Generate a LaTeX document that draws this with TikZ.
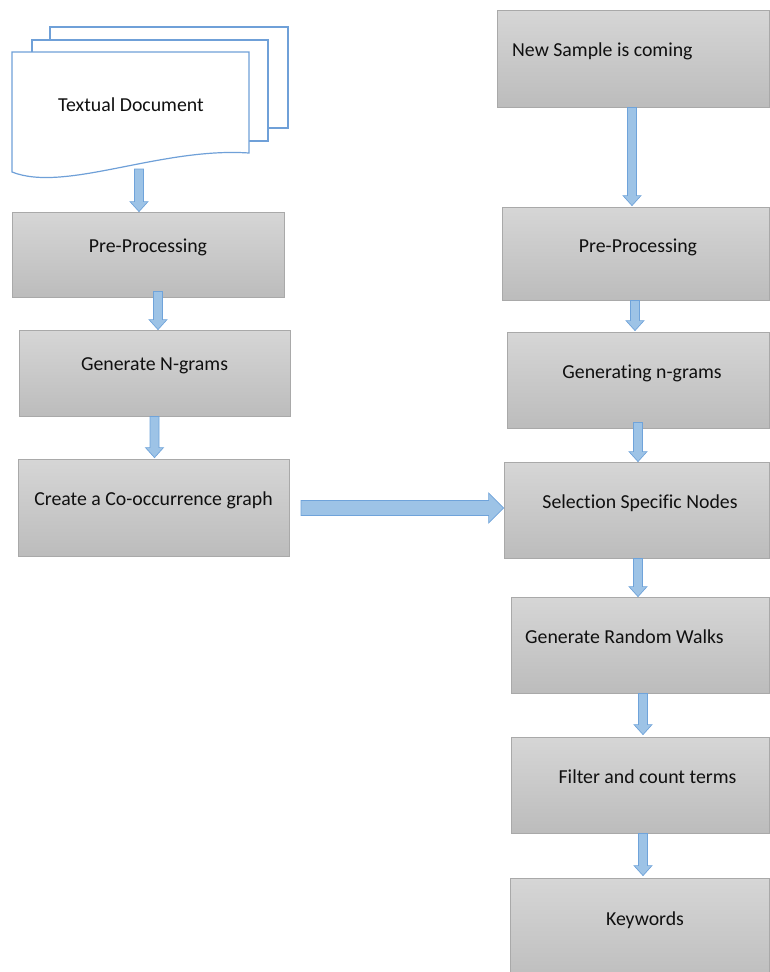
\documentclass[tikz,border=0pt]{standalone}
\usepackage{fontspec}
\setmainfont{Carlito}[Ligatures=NoCommon]
\usetikzlibrary{calc}
\definecolor{boxtop}{HTML}{D6D6D6}
\definecolor{boxbot}{HTML}{BCBCBC}
\definecolor{boxedge}{HTML}{A9A9A9}
\definecolor{arrfill}{HTML}{9DC3E6}
\definecolor{arredge}{HTML}{6FA3DA}
\definecolor{docblue}{HTML}{6FA0D8}
\definecolor{txtcol}{HTML}{101010}
\newcommand\varr[2]{\draw[blockarrow] let \p1=(#1), \p2=(#2) in
  (\x1-4.5pt,\y1) -- (\x1+4.5pt,\y1) -- (\x1+4.5pt,\y2+10pt) -- (\x1+9pt,\y2+10pt)
  -- (\x1,\y2) -- (\x1-9pt,\y2+10pt) -- (\x1-4.5pt,\y2+10pt) -- cycle;}
\newcommand\harr[2]{\draw[blockarrow] let \p1=(#1), \p2=(#2) in
  (\x1,\y1+7.5pt) -- (\x2-15pt,\y1+7.5pt) -- (\x2-15pt,\y1+15pt) -- (\x2,\y1)
  -- (\x2-15pt,\y1-15pt) -- (\x2-15pt,\y1-7.5pt) -- (\x1,\y1-7.5pt) -- cycle;}
\tikzset{
  box/.style={draw=boxedge, line width=0.8pt, top color=boxtop, bottom color=boxbot,
    inner sep=0pt, rectangle},
  lbl/.style={text=txtcol, font=\fontsize{19.8}{24}\selectfont, inner sep=0pt, anchor=center},
  lbll/.style={lbl, anchor=west},
  blockarrow/.style={fill=arrfill, draw=arredge, line width=0.7pt, line join=miter},
  page/.style={draw=docblue, fill=white, line width=1.2pt}
}
\begin{document}
\begin{tikzpicture}[x=1pt,y=-1pt]
\useasboundingbox (0,0) rectangle (770,972);
\clip (0,0) rectangle (770,972);
% document stack
\draw[page] (50,27) rectangle (288,128);
\draw[page] (32,40) rectangle (268,141);
\draw[page] (12,52) -- (249,52) -- (249,153) .. controls (160,147) and (65,193) .. (12,172) -- cycle;
\node[lbl] (doc) at (131,105) {Textual Document};
\coordinate (docb) at (139,169);
% left boxes
\node[box, minimum width=272pt, minimum height=85pt] (pp1) at (148,254.5) {};
\node[lbl] (pp1t) at (148,247) {Pre-Processing};
\node[box, minimum width=271pt, minimum height=86pt] (gn) at (154.5,373) {};
\node[lbl] (gnt) at (154.5,366) {Generate N-grams};
\node[box, minimum width=271pt, minimum height=97pt] (co) at (153.5,507.5) {};
\node[lbl] (cot) at (153.5,500) {Create a Co-occurrence graph};
% right boxes
\node[box, minimum width=272.5pt, minimum height=97pt] (ns) at (633.25,58.5) {};
\node[lbll] (nst) at (512,51) {New Sample is coming};
\node[box, minimum width=267.5pt, minimum height=93pt] (pp2) at (635.75,253.5) {};
\node[lbl] (pp2t) at (638,247) {Pre-Processing};
\node[box, minimum width=262.5pt, minimum height=96pt] (gg) at (638.25,380) {};
\node[lbl] (ggt) at (642,373) {Generating n-grams};
\node[box, minimum width=265.5pt, minimum height=96pt] (ss) at (636.75,510) {};
\node[lbl] (sst) at (640,503) {Selection Specific Nodes};
\node[box, minimum width=258.5pt, minimum height=96pt] (rw) at (640.25,645) {};
\node[lbll] (rwt) at (525,637) {Generate Random Walks};
\node[box, minimum width=258.5pt, minimum height=96pt] (ft) at (640.25,785) {};
\node[lbl] (ftt) at (647.5,777) {Filter and count terms};
\node[box, minimum width=259.5pt, minimum height=110pt] (kw) at (639.75,933) {};
\node[lbl] (kwt) at (645,920) {Keywords};
% arrow x positions
\coordinate (c0) at (139,0);
\coordinate (c1) at (158,0);
\coordinate (c2) at (154.5,0);
\coordinate (c4) at (632,0);
\coordinate (c5) at (635,0);
\coordinate (c6) at (638,0);
\coordinate (c8) at (643,0);
\coordinate (hs) at (301,508);
% arrows
\varr{docb}{pp1.north -| c0}
\varr{$(pp1.south -| c1)+(0,-6)$}{gn.north -| c1}
\varr{gn.south -| c2}{$(co.north -| c2)+(0,-1)$}
\harr{hs}{ss.west |- hs}
\varr{ns.south -| c4}{$(pp2.north -| c4)+(0,-1)$}
\varr{pp2.south -| c5}{$(gg.north -| c5)+(0,-1)$}
\varr{$(gg.south -| c6)+(0,-6)$}{ss.north -| c6}
\varr{ss.south -| c6}{rw.north -| c6}
\varr{rw.south -| c8}{$(ft.north -| c8)+(0,-2)$}
\varr{ft.south -| c8}{$(kw.north -| c8)+(0,-2)$}
\end{tikzpicture}
\end{document}
